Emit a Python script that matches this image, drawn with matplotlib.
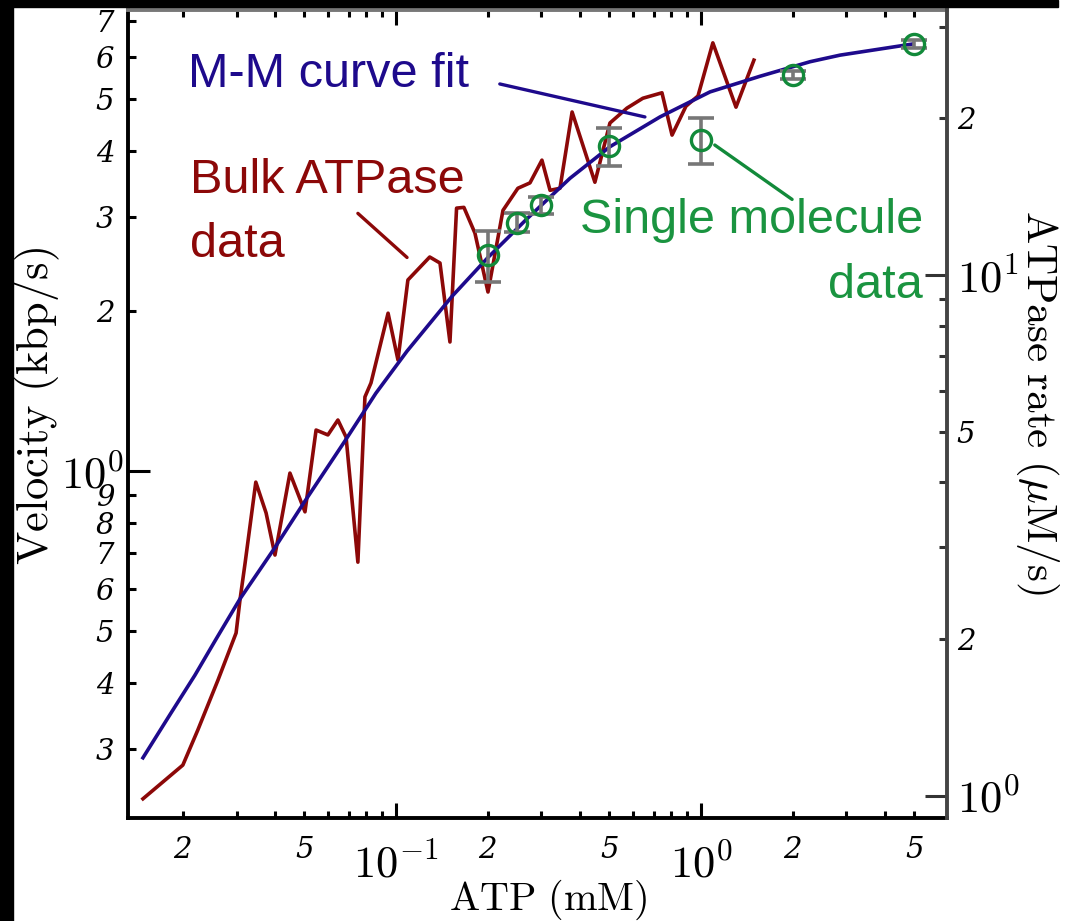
import matplotlib
matplotlib.use('Agg')  # no display
import matplotlib.pyplot as plt
from matplotlib.ticker import FixedLocator, FixedFormatter
from matplotlib.patches import Rectangle

plt.rcParams['mathtext.fontset'] = 'cm'

# Bulk ATPase trace (ATP in mM, velocity in kbp/s)
bulk_atp = [0.0148, 0.020, 0.0224, 0.0261, 0.0299, 0.0308, 0.0320, 0.0347, 0.0375,
            0.0401, 0.0449, 0.0503, 0.0547, 0.0598, 0.0645, 0.0686, 0.0750, 0.0791,
            0.0828, 0.0942, 0.1015, 0.1094, 0.129, 0.1394, 0.1503, 0.158, 0.167,
            0.1815, 0.2003, 0.2243, 0.251, 0.275, 0.301, 0.320, 0.345, 0.378, 0.449,
            0.503, 0.572, 0.645, 0.745, 0.804, 0.893, 0.978, 1.094, 1.303, 1.492]
bulk_vel = [0.242, 0.280, 0.326, 0.405, 0.496, 0.573, 0.671, 0.953, 0.834,
            0.695, 0.991, 0.838, 1.194, 1.169, 1.247, 1.158, 0.674, 1.378,
            1.464, 1.98, 1.617, 2.286, 2.525, 2.46, 1.748, 3.12, 3.13,
            2.80, 2.17, 3.09, 3.40, 3.48, 3.84, 3.37, 3.40, 4.73, 3.49,
            4.51, 4.81, 5.02, 5.14, 4.28, 4.85, 5.07, 6.38, 4.83, 5.92]

# M-M curve fit
fit_atp = [0.0148, 0.0183, 0.0219, 0.0257, 0.0308, 0.0401, 0.0503, 0.0681, 0.0859,
           0.1087, 0.1527, 0.2003, 0.269, 0.372, 0.503, 0.734, 1.071, 1.56, 2.28,
           2.86, 4.96]
fit_vel = [0.289, 0.351, 0.413, 0.483, 0.575, 0.718, 0.878, 1.14, 1.40,
           1.68, 2.13, 2.52, 2.98, 3.55, 4.07, 4.63, 5.16, 5.52, 5.88,
           6.05, 6.35]

# single molecule points
sm_atp = [0.2, 0.25, 0.3, 0.5, 1.0, 2.0, 5.0]
sm_vel = [2.55, 2.93, 3.16, 4.08, 4.19, 5.55, 6.35]
sm_err = [0.28, 0.12, 0.12, 0.34, 0.42, 0.10, 0.10]

# ticks
x_major = [0.1, 1]
x_major_labels = [r'$10^{-1}$', r'$10^{0}$']
x_minor = [0.02, 0.03, 0.04, 0.05, 0.06, 0.07, 0.08, 0.09,
           0.2, 0.3, 0.4, 0.5, 0.6, 0.7, 0.8, 0.9, 2, 3, 4, 5]
x_minor_labels = ['2', '', '', '5', '', '', '', '',
                  '2', '', '', '5', '', '', '', '', '2', '', '', '5']
vel_major = [1]
vel_major_labels = [r'$10^{0}$']
vel_minor = [0.3, 0.4, 0.5, 0.6, 0.7, 0.8, 0.9, 2, 3, 4, 5, 6, 7]
vel_minor_labels = ['3', '4', '5', '6', '7', '8', '9', '2', '3', '4', '5', '6', '7']
rate_major = [1, 10]
rate_major_labels = [r'$10^{0}$', r'$10^{1}$']
rate_minor = [2, 3, 4, 5, 6, 7, 8, 9, 20, 30]
rate_minor_labels = ['2', '', '', '5', '', '', '', '', '2', '']

RED = '#8c0808'
BLUE = '#1e0a8c'
GREEN = '#128a3a'
GREEN_TXT = '#1a9440'
GREY = '#777777'

W, H = 1067, 921
fig = plt.figure(figsize=(W / 100, H / 100), dpi=100)
ax = fig.add_axes([128 / W, 1 - 818 / H, (947 - 128) / W, (818 - 10) / H])
ax.set_xscale('log')
ax.set_yscale('log')

ax.plot(bulk_atp, bulk_vel, color=RED, lw=2.6, zorder=2)
ax.plot(fit_atp, fit_vel, color=BLUE, lw=2.6, zorder=3)
ax.errorbar(sm_atp, sm_vel, yerr=sm_err, fmt='none', ecolor=GREY,
            elinewidth=2.6, capsize=9.5, capthick=2.6, zorder=4)
ax.plot(sm_atp, sm_vel, 'o', mfc='none', mec=GREEN, ms=14.5, mew=2.4, zorder=5)

ax.set_xlim(0.01322, 6.41)
ax.set_ylim(0.2227, 7.355)

ax2 = ax.twinx()
ax2.set_yscale('log')
ax2.set_ylim(0.907, 32.3)

ax.xaxis.set_major_locator(FixedLocator(x_major))
ax.xaxis.set_major_formatter(FixedFormatter(x_major_labels))
ax.xaxis.set_minor_locator(FixedLocator(x_minor))
ax.xaxis.set_minor_formatter(FixedFormatter(x_minor_labels))
ax.yaxis.set_major_locator(FixedLocator(vel_major))
ax.yaxis.set_major_formatter(FixedFormatter(vel_major_labels))
ax.yaxis.set_minor_locator(FixedLocator(vel_minor))
ax.yaxis.set_minor_formatter(FixedFormatter(vel_minor_labels))
ax2.yaxis.set_major_locator(FixedLocator(rate_major))
ax2.yaxis.set_major_formatter(FixedFormatter(rate_major_labels))
ax2.yaxis.set_minor_locator(FixedLocator(rate_minor))
ax2.yaxis.set_minor_formatter(FixedFormatter(rate_minor_labels))

ax.tick_params(which='both', direction='in', top=True, right=False, width=2.2)
ax.tick_params(axis='x', which='major', length=11, labelsize=32, pad=18)
ax.tick_params(axis='x', which='minor', length=5, labelsize=21, pad=13)
ax.tick_params(axis='y', which='major', length=16, labelsize=32, pad=3)
ax.tick_params(axis='y', which='minor', length=6, labelsize=21, pad=10)
ax2.tick_params(which='both', direction='in', width=2.2, colors='#333333', labelcolor='black')
ax2.tick_params(which='major', length=16, labelsize=32, pad=7)
ax2.tick_params(which='minor', length=6, labelsize=21, pad=7)

for lab in (ax.get_xticklabels(minor=True) + ax.get_yticklabels(minor=True)
            + ax2.get_yticklabels(minor=True)):
    lab.set_fontstyle('italic')
    lab.set_fontfamily('DejaVu Serif')

ax.spines['right'].set_visible(False)
for side in ['left', 'top', 'bottom']:
    ax2.spines[side].set_visible(False)
ax.spines['left'].set_linewidth(2.8)
ax.spines['bottom'].set_linewidth(2.8)
ax.spines['top'].set_linewidth(2.8)
ax.spines['top'].set_color('#777777')
ax2.spines['right'].set_linewidth(2.8)
ax2.spines['right'].set_color('#444444')

# axis titles
fig.text(37 / W, 1 - 406 / H, r'$\mathrm{Velocity\ (kbp/s)}$', rotation=90,
         ha='center', va='center', fontsize=32)
fig.text(548 / W, 1 - 900 / H, r'$\mathrm{ATP\ (mM)}$', ha='center', va='center', fontsize=29)
fig.text(1037 / W, 1 - 402 / H, r'$\mathrm{ATPase\ rate\ (}\mu\mathrm{M/s)}$', rotation=-90,
         ha='center', va='center', fontsize=31)

# annotations
txt = dict(family='Liberation Sans', fontsize=35, va='baseline')
ax.text(0.0208, 5.27, 'M-M curve fit', color=BLUE, ha='left', **txt)
ax.text(0.0211, 3.33, 'Bulk ATPase', color=RED, ha='left', **txt)
ax.text(0.0211, 2.53, 'data', color=RED, ha='left', **txt)
ax.text(5.35, 2.80, 'Single molecule', color=GREEN_TXT, ha='right', **txt)
ax.text(5.35, 2.11, 'data', color=GREEN_TXT, ha='right', **txt)

line = dict(arrowstyle='-', lw=2.4, shrinkA=0, shrinkB=0)
ax.annotate('', xy=(0.655, 4.63), xytext=(0.219, 5.34), arrowprops=dict(color=BLUE, **line))
ax.annotate('', xy=(0.1087, 2.52), xytext=(0.0750, 3.05), arrowprops=dict(color=RED, **line))
ax.annotate('', xy=(1.11, 4.10), xytext=(1.99, 3.24), arrowprops=dict(color=GREEN, **line))

# black screenshot borders
fig.add_artist(Rectangle((0, 0), 13 / W, 1, transform=fig.transFigure, color='black', zorder=10))
fig.add_artist(Rectangle((0, 1 - 7 / H), 1058 / W, 7 / H, transform=fig.transFigure,
                         color='black', zorder=10))

fig.savefig('out.png', dpi=100)
